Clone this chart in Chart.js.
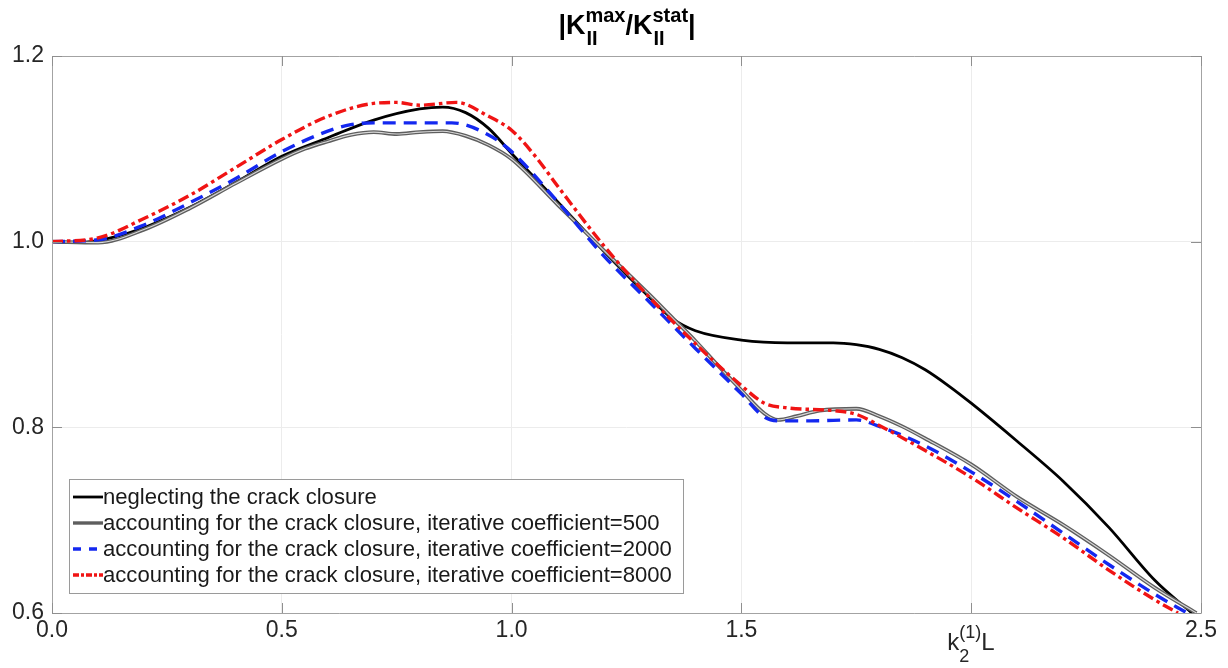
<!DOCTYPE html>
<html>
<head>
<meta charset="utf-8">
<script src="https://cdn.jsdelivr.net/npm/chart.js@4.4.1/dist/chart.umd.min.js"></script>
<style>
  html, body { margin: 0; padding: 0; background: #ffffff; }
  #wrap { position: relative; width: 1228px; height: 668px; }
</style>
</head>
<body>
<div id="wrap"><canvas id="c" width="1228" height="668"></canvas></div>
<script>
// ---- data ----
const xNeglect = [0, 0.05, 0.1, 0.15, 0.2, 0.3, 0.4, 0.5, 0.6, 0.7, 0.8, 0.85, 0.9, 0.95, 1.0, 1.1, 1.2, 1.3, 1.35, 1.4, 1.5, 1.6, 1.7, 1.75, 1.8, 1.85, 1.9, 1.95, 2.0, 2.1, 2.2, 2.3, 2.4, 2.48];
const yNeglect = [1.0, 0.999, 1.001, 1.007, 1.015, 1.037, 1.064, 1.092, 1.112, 1.131, 1.143, 1.145, 1.139, 1.122, 1.095, 1.043, 0.990, 0.940, 0.917, 0.904, 0.894, 0.891, 0.891, 0.889, 0.884, 0.875, 0.862, 0.845, 0.826, 0.785, 0.742, 0.692, 0.635, 0.600];

const xC500 = [0, 0.1, 0.2, 0.3, 0.4, 0.5, 0.55, 0.6, 0.65, 0.7, 0.75, 0.8, 0.85, 0.9, 0.95, 1.0, 1.1, 1.2, 1.3, 1.35, 1.4, 1.45, 1.5, 1.55, 1.58, 1.62, 1.67, 1.75, 1.8, 1.85, 1.9, 2.0, 2.1, 2.2, 2.3, 2.4, 2.49];
const yC500 = [1.0, 0.999, 1.013, 1.036, 1.063, 1.089, 1.100, 1.108, 1.115, 1.118, 1.116, 1.118, 1.119, 1.114, 1.104, 1.089, 1.040, 0.991, 0.943, 0.918, 0.893, 0.866, 0.840, 0.815, 0.808, 0.812, 0.818, 0.820, 0.812, 0.801, 0.788, 0.760, 0.725, 0.695, 0.662, 0.627, 0.600];

const xC2000 = [0, 0.1, 0.2, 0.3, 0.4, 0.5, 0.6, 0.65, 0.7, 0.8, 0.87, 0.95, 1.0, 1.1, 1.2, 1.3, 1.4, 1.5, 1.55, 1.58, 1.65, 1.75, 1.8, 1.9, 2.0, 2.1, 2.2, 2.3, 2.4, 2.47];
const yC2000 = [1.0, 1.002, 1.018, 1.042, 1.068, 1.097, 1.119, 1.126, 1.128, 1.128, 1.128, 1.115, 1.097, 1.043, 0.985, 0.935, 0.885, 0.836, 0.811, 0.807, 0.807, 0.808, 0.801, 0.780, 0.752, 0.720, 0.686, 0.652, 0.620, 0.600];

const xC8000 = [0, 0.1, 0.2, 0.3, 0.4, 0.5, 0.6, 0.7, 0.75, 0.8, 0.88, 0.95, 1.0, 1.05, 1.1, 1.2, 1.3, 1.4, 1.5, 1.55, 1.6, 1.7, 1.75, 1.8, 1.9, 2.0, 2.1, 2.2, 2.3, 2.4, 2.45];
const yC8000 = [1.0, 1.004, 1.025, 1.050, 1.080, 1.110, 1.135, 1.149, 1.150, 1.147, 1.150, 1.135, 1.120, 1.093, 1.060, 0.996, 0.940, 0.890, 0.845, 0.826, 0.821, 0.818, 0.814, 0.802, 0.775, 0.746, 0.713, 0.681, 0.646, 0.614, 0.600];

const seriesNames = [
  'neglecting the crack closure',
  'accounting for the crack closure, iterative coefficient=500',
  'accounting for the crack closure, iterative coefficient=2000',
  'accounting for the crack closure, iterative coefficient=8000'
];
const xTickValues = [0, 0.5, 1.0, 1.5, 2.0, 2.5];
const xTickLabels = ['0.0', '0.5', '1.0', '1.5', '', '2.5'];
const yTickValues = [0.6, 0.8, 1.0, 1.2];
const yTickLabels = ['0.6', '0.8', '1.0', '1.2'];

// ---- styles ----
const FONT = '"Liberation Sans", Arial, sans-serif';
const styles = [
  { color: '#000000', width: 2.8, dash: [] },
  { color: '#5e5e5e', width: 3.8, dash: [] },
  { color: '#1428f0', width: 3.4, dash: [13, 8] },
  { color: '#f01414', width: 3.4, dash: [11, 4, 3.5, 4] }
];

function pts(xs, ys) { return xs.map((x, i) => ({ x: x, y: ys[i] })); }

const datasets = [
  { label: seriesNames[0], data: pts(xNeglect, yNeglect), borderColor: styles[0].color, borderWidth: styles[0].width, borderDash: styles[0].dash, order: 5 },
  { label: seriesNames[1], data: pts(xC500, yC500), borderColor: styles[1].color, borderWidth: styles[1].width, borderDash: styles[1].dash, order: 4 },
  { label: '_inner500', data: pts(xC500, yC500), borderColor: '#d8d8d8', borderWidth: 1.1, borderDash: [], order: 3 },
  { label: seriesNames[2], data: pts(xC2000, yC2000), borderColor: styles[2].color, borderWidth: styles[2].width, borderDash: styles[2].dash, order: 2 },
  { label: seriesNames[3], data: pts(xC8000, yC8000), borderColor: styles[3].color, borderWidth: styles[3].width, borderDash: styles[3].dash, order: 1 }
].map(d => Object.assign(d, { pointRadius: 0, fill: false, cubicInterpolationMode: 'monotone', borderCapStyle: 'butt', borderJoinStyle: 'round' }));

const AXIS_COLOR = '#a3a3a3';

const decorPlugin = {
  id: 'decor',
  afterDraw(chart) {
    const ctx = chart.ctx;
    const a = chart.chartArea;
    const xs = chart.scales.x, ys = chart.scales.y;
    ctx.save();
    // box
    ctx.strokeStyle = AXIS_COLOR;
    ctx.lineWidth = 1;
    ctx.beginPath();
    ctx.rect(Math.round(a.left) + 0.5, Math.round(a.top) + 0.5, Math.round(a.right - a.left), Math.round(a.bottom - a.top));
    ctx.stroke();
    // inward ticks
    ctx.strokeStyle = '#8f8f8f';
    ctx.beginPath();
    yTickValues.forEach(v => {
      const py = Math.round(ys.getPixelForValue(v)) + 0.5;
      ctx.moveTo(a.left, py); ctx.lineTo(a.left + 10, py);
      ctx.moveTo(a.right, py); ctx.lineTo(a.right - 10, py);
    });
    xTickValues.forEach(v => {
      const px = Math.round(xs.getPixelForValue(v)) + 0.5;
      ctx.moveTo(px, a.bottom); ctx.lineTo(px, a.bottom - 10);
      ctx.moveTo(px, a.top); ctx.lineTo(px, a.top + 10);
    });
    ctx.stroke();

    // legend
    const lx = 69, ly = 479, lw = 614, lh = 114;
    ctx.fillStyle = '#ffffff';
    ctx.fillRect(lx, ly, lw, lh);
    ctx.strokeStyle = '#9a9a9a';
    ctx.lineWidth = 1;
    ctx.strokeRect(lx + 0.5, ly + 0.5, lw, lh);
    const rowY = [497, 523, 549, 575];
    ctx.font = '22.1px ' + FONT;
    ctx.textBaseline = 'middle';
    ctx.textAlign = 'left';
    seriesNames.forEach((name, i) => {
      const s = styles[i];
      ctx.save();
      ctx.strokeStyle = s.color;
      ctx.lineWidth = i === 0 ? 2.8 : 3.4;
      ctx.setLineDash(i === 2 ? [8, 8] : (i === 3 ? [6, 2, 3, 2] : []));
      ctx.beginPath();
      ctx.moveTo(73, rowY[i]); ctx.lineTo(103, rowY[i]);
      ctx.stroke();
      ctx.restore();
      ctx.fillStyle = '#1a1a1a';
      ctx.fillText(name, 103, rowY[i] + 1);
    });

    // title |K_II^max / K_II^stat|
    const big = 'bold 27px ' + FONT, small = 'bold 20px ' + FONT;
    const parts = [
      { t: '|K', f: big },
      { sup: 'max', sub: 'II' },
      { t: '/K', f: big },
      { sup: 'stat', sub: 'II' },
      { t: '|', f: big }
    ];
    function w(t, f) { ctx.font = f; return ctx.measureText(t).width; }
    let total = 0;
    parts.forEach(p => { total += p.t ? w(p.t, p.f) : Math.max(w(p.sup, small), w(p.sub, small)); });
    let cx = 627 - total / 2;
    const base = 34;
    ctx.fillStyle = '#000000';
    ctx.textBaseline = 'alphabetic';
    parts.forEach(p => {
      if (p.t) {
        ctx.font = p.f; ctx.fillText(p.t, cx, base); cx += w(p.t, p.f);
      } else {
        ctx.font = small;
        ctx.fillText(p.sup, cx, base - 12);
        ctx.fillText(p.sub, cx + 1, base + 11);
        cx += Math.max(w(p.sup, small), w(p.sub, small));
      }
    });

    // x axis label k_2^(1) L placed at the 2.0 tick
    const xc = xs.getPixelForValue(2.0);
    const lab = '24px ' + FONT, labS = '18px ' + FONT;
    ctx.fillStyle = '#262626';
    let x0 = xc - 24;
    ctx.font = lab; ctx.fillText('k', x0, 650); x0 += w('k', lab);
    ctx.font = labS; ctx.fillText('(1)', x0, 638); ctx.fillText('2', x0, 662);
    x0 += w('(1)', labS);
    ctx.font = lab; ctx.fillText('L', x0, 650);
    ctx.restore();
  }
};

new Chart(document.getElementById('c'), {
  type: 'line',
  data: { datasets: datasets },
  options: {
    responsive: false,
    animation: false,
    devicePixelRatio: 1,
    layout: { padding: { top: 56, right: 27, left: 0, bottom: 0 } },
    plugins: { legend: { display: false }, title: { display: false }, tooltip: { enabled: false } },
    scales: {
      x: {
        type: 'linear', min: 0, max: 2.5,
        afterBuildTicks: (s) => { s.ticks = xTickValues.map(v => ({ value: v })); },
        afterFit: (s) => { s.height = 55; },
        ticks: { callback: (v) => { const i = xTickValues.findIndex(t => Math.abs(t - v) < 1e-9); return i >= 0 ? xTickLabels[i] : ''; }, font: { size: 23, family: FONT }, color: '#262626', padding: 4, maxRotation: 0, autoSkip: false },
        grid: { color: '#ececec', lineWidth: 1, drawTicks: false },
        border: { display: false }
      },
      y: {
        type: 'linear', min: 0.6, max: 1.2,
        afterBuildTicks: (s) => { s.ticks = yTickValues.map(v => ({ value: v })); },
        afterFit: (s) => { s.width = 52; },
        ticks: { callback: (v) => { const i = yTickValues.findIndex(t => Math.abs(t - v) < 1e-9); return i >= 0 ? yTickLabels[i] : ''; }, font: { size: 23, family: FONT }, color: '#262626', padding: 8 },
        grid: { color: '#ececec', lineWidth: 1, drawTicks: false },
        border: { display: false }
      }
    }
  },
  plugins: [decorPlugin]
});
</script>
</body>
</html>
